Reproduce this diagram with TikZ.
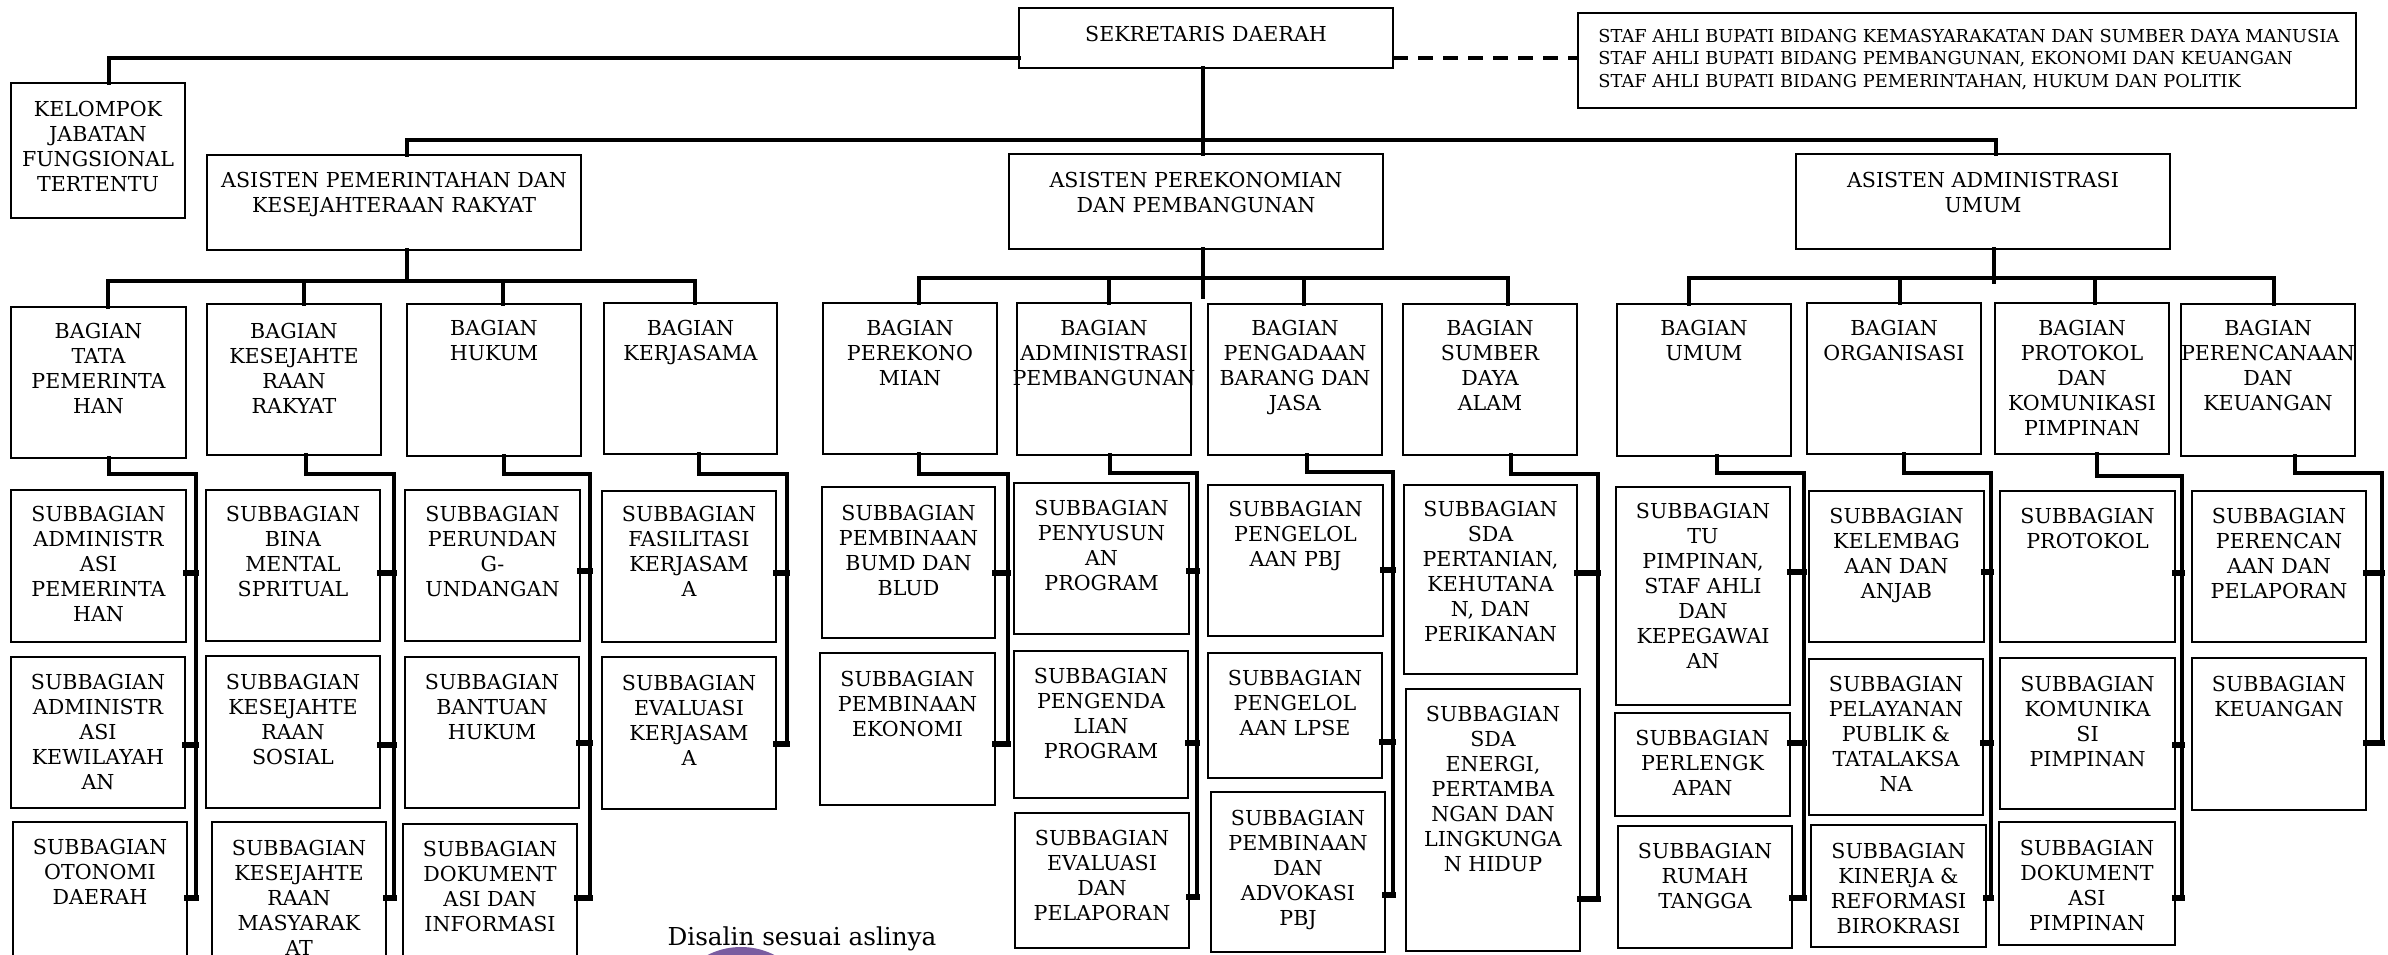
\documentclass[tikz,border=0pt]{standalone}
\usepackage{fontspec}
\setmainfont{DejaVu Serif}
\usetikzlibrary{fit,calc}
\tikzset{
  box/.style={draw, line width=1.2pt, inner sep=0pt, outer sep=0pt, rectangle},
  txt/.style={align=center, inner sep=0pt, anchor=north, font=\fontsize{10.3pt}{12.5pt}\selectfont},
  conn/.style={line width=2.1pt, line cap=rect, line join=miter},
  stubline/.style={line width=2.6pt, line cap=rect},
}
% name, x1, y1, x2, y2, first-line centre y, text
\newcommand\obox[7]{%
  \node[box, fit={(#2,#3)(#4,#5)}] (#1) {};
  \path (#1.north) ++(0,{#6-#3-7.5}) node[txt] (#1t) {#7};}
% sub box stub: sub name, y, group name
\newcommand\stub[3]{%
  \coordinate (#1c) at (0,#2);
  \draw[stubline] (#1.east |- #1c) -- (#3s |- #1c);}
% group: bag name, vertical x, elbow y, spine x, last sub name
\newcommand\grp[5]{%
  \coordinate (#1v) at (#2,#3);
  \coordinate (#1s) at (#4,#3);
  \draw[conn] (#1.south -| #1v) -- (#1v) -- (#1s) -- (#1s |- #5c);}
% drop from a bus: bag name, x, bus y
\newcommand\drop[3]{%
  \coordinate (d#1) at (#2,#3);
  \draw[conn] (d#1) -- (#1.north -| d#1);}
\begin{document}
\begin{tikzpicture}[x=0.5pt,y=-0.5pt]
\path[use as bounding box] (0,0) rectangle (2388,954);
\fill[white] (0,0) rectangle (2388,954);
\begin{scope}
\clip (0,0) rectangle (2388,954);

% ---------- top level ----------
\obox{sekda}{1019}{8}{1393}{68}{33}{SEKRETARIS DAERAH}
\node[box, fit={(1578,13)(2356,108)}] (staf) {};
\path (staf.north west) ++(20,15.5) node[anchor=north west, inner sep=0pt, align=left,
  font=\fontsize{8.9pt}{11.25pt}\selectfont] (staft)
  {STAF AHLI BUPATI BIDANG KEMASYARAKATAN DAN SUMBER DAYA MANUSIA\\
   STAF AHLI BUPATI BIDANG PEMBANGUNAN, EKONOMI DAN KEUANGAN\\
   STAF AHLI BUPATI BIDANG PEMERINTAHAN, HUKUM DAN POLITIK};
\obox{klp}{11}{83}{185}{218}{108}{KELOMPOK\\JABATAN\\FUNGSIONAL\\TERTENTU}

\obox{a1}{207}{155}{581}{250}{179}{ASISTEN PEMERINTAHAN DAN\\KESEJAHTERAAN RAKYAT}
\obox{a2}{1009}{154}{1383}{249}{179}{ASISTEN PEREKONOMIAN\\DAN PEMBANGUNAN}
\obox{a3}{1796}{154}{2170}{249}{179}{ASISTEN ADMINISTRASI\\UMUM}

\coordinate (kj1) at (109,58);
\draw[conn] (sekda.west |- kj1) -- (kj1) -- (klp.north -| kj1);
\draw[conn, dash pattern=on 7.5pt off 5pt, line cap=butt] (sekda.east |- kj1) -- (staf.west |- kj1);
\coordinate (sv) at (1203,0);
\draw[conn] (sekda.south -| sv) -- (a2.north -| sv);
\coordinate (mL) at (407,140);
\coordinate (mR) at (1996,140);
\draw[conn] (a1.north -| mL) -- (mL) -- (mR) -- (a3.north -| mR);

% ---------- bagian ----------
\obox{tp}{11}{307}{186}{458}{330}{BAGIAN\\TATA\\PEMERINTA\\HAN}
\obox{ks}{207}{304}{381}{455}{330}{BAGIAN\\KESEJAHTE\\RAAN\\RAKYAT}
\obox{hk}{407}{304}{581}{456}{327}{BAGIAN\\HUKUM}
\obox{kj}{604}{303}{777}{454}{327}{BAGIAN\\KERJASAMA}
\obox{pk}{823}{303}{997}{454}{327}{BAGIAN\\PEREKONO\\MIAN}
\obox{ap}{1017}{303}{1191}{455}{327}{BAGIAN\\ADMINISTRASI\\PEMBANGUNAN}
\obox{pg}{1208}{304}{1382}{455}{327}{BAGIAN\\PENGADAAN\\BARANG DAN\\JASA}
\obox{sd}{1403}{304}{1577}{455}{327}{BAGIAN\\SUMBER\\DAYA\\ALAM}
\obox{um}{1617}{304}{1791}{456}{327}{BAGIAN\\UMUM}
\obox{og}{1807}{303}{1981}{454}{327}{BAGIAN\\ORGANISASI}
\obox{pt}{1995}{303}{2169}{454}{327}{BAGIAN\\PROTOKOL\\DAN\\KOMUNIKASI\\PIMPINAN}
\obox{pr}{2181}{304}{2355}{456}{327}{BAGIAN\\PERENCANAAN\\DAN\\KEUANGAN}

% buses from asisten
\coordinate (b1) at (407,281);
\coordinate (b1L) at (108,281);
\coordinate (b1R) at (695,281);
\draw[conn] (a1.south -| b1) -- (b1);
\draw[conn] (tp.north -| b1L) -- (b1L) -- (b1R) -- (kj.north -| b1R);
\drop{ks}{304}{281}
\drop{hk}{503}{281}

\coordinate (b2) at (1203,297);
\coordinate (b2L) at (919,278);
\coordinate (b2R) at (1508,278);
\draw[conn] (a2.south -| b2) -- (b2);
\draw[conn] (pk.north -| b2L) -- (b2L) -- (b2R) -- (sd.north -| b2R);
\drop{ap}{1109}{278}
\drop{pg}{1304}{278}

\coordinate (b3) at (1994,282);
\coordinate (b3L) at (1689,278);
\coordinate (b3R) at (2274,278);
\draw[conn] (a3.south -| b3) -- (b3);
\draw[conn] (um.north -| b3L) -- (b3L) -- (b3R) -- (pr.north -| b3R);
\drop{og}{1900}{278}
\drop{pt}{2095}{278}

% ---------- subbagian ----------
\obox{s11}{11}{490}{186}{642}{513}{SUBBAGIAN\\ADMINISTR\\ASI\\PEMERINTA\\HAN}
\obox{s12}{11}{657}{185}{808}{681}{SUBBAGIAN\\ADMINISTR\\ASI\\KEWILAYAH\\AN}
\obox{s13}{13}{822}{187}{990}{846}{SUBBAGIAN\\OTONOMI\\DAERAH}
\obox{s21}{206}{490}{380}{641}{513}{SUBBAGIAN\\BINA\\MENTAL\\SPRITUAL}
\obox{s22}{206}{656}{380}{808}{681}{SUBBAGIAN\\KESEJAHTE\\RAAN\\SOSIAL}
\obox{s23}{212}{822}{386}{990}{847}{SUBBAGIAN\\KESEJAHTE\\RAAN\\MASYARAK\\AT}
\obox{s31}{405}{490}{580}{641}{513}{SUBBAGIAN\\PERUNDAN\\G-\\UNDANGAN}
\obox{s32}{405}{657}{579}{808}{681}{SUBBAGIAN\\BANTUAN\\HUKUM}
\obox{s33}{403}{824}{577}{990}{848}{SUBBAGIAN\\DOKUMENT\\ASI DAN\\INFORMASI}
\obox{s41}{602}{491}{776}{642}{513}{SUBBAGIAN\\FASILITASI\\KERJASAM\\A}
\obox{s42}{602}{657}{776}{809}{682}{SUBBAGIAN\\EVALUASI\\KERJASAM\\A}
\obox{s51}{822}{487}{995}{638}{512}{SUBBAGIAN\\PEMBINAAN\\BUMD DAN\\BLUD}
\obox{s52}{820}{653}{995}{805}{678}{SUBBAGIAN\\PEMBINAAN\\EKONOMI}
\obox{s61}{1014}{483}{1189}{634}{507}{SUBBAGIAN\\PENYUSUN\\AN\\PROGRAM}
\obox{s62}{1014}{651}{1188}{798}{675}{SUBBAGIAN\\PENGENDA\\LIAN\\PROGRAM}
\obox{s63}{1015}{813}{1189}{948}{837}{SUBBAGIAN\\EVALUASI\\DAN\\PELAPORAN}
\obox{s71}{1208}{485}{1383}{636}{508}{SUBBAGIAN\\PENGELOL\\AAN PBJ}
\obox{s72}{1208}{653}{1382}{778}{677}{SUBBAGIAN\\PENGELOL\\AAN LPSE}
\obox{s73}{1211}{792}{1385}{952}{817}{SUBBAGIAN\\PEMBINAAN\\DAN\\ADVOKASI\\PBJ}
\obox{s81}{1404}{485}{1577}{674}{508}{SUBBAGIAN\\SDA\\PERTANIAN,\\KEHUTANA\\N, DAN\\PERIKANAN}
\obox{s82}{1406}{689}{1580}{951}{713}{SUBBAGIAN\\SDA\\ENERGI,\\PERTAMBA\\NGAN DAN\\LINGKUNGA\\N HIDUP}
\obox{s91}{1616}{487}{1790}{705}{510}{SUBBAGIAN\\TU\\PIMPINAN,\\STAF AHLI\\DAN\\KEPEGAWAI\\AN}
\obox{s92}{1615}{713}{1790}{816}{737}{SUBBAGIAN\\PERLENGK\\APAN}
\obox{s93}{1618}{826}{1792}{948}{850}{SUBBAGIAN\\RUMAH\\TANGGA}
\obox{sa1}{1809}{491}{1984}{642}{515}{SUBBAGIAN\\KELEMBAG\\AAN DAN\\ANJAB}
\obox{sa2}{1809}{659}{1983}{815}{683}{SUBBAGIAN\\PELAYANAN\\PUBLIK \&\\TATALAKSA\\NA}
\obox{sa3}{1811}{825}{1986}{947}{850}{SUBBAGIAN\\KINERJA \&\\REFORMASI\\BIROKRASI}
\obox{sb1}{2000}{491}{2175}{642}{515}{SUBBAGIAN\\PROTOKOL}
\obox{sb2}{2000}{658}{2175}{809}{683}{SUBBAGIAN\\KOMUNIKA\\SI\\PIMPINAN}
\obox{sb3}{1999}{822}{2175}{945}{847}{SUBBAGIAN\\DOKUMENT\\ASI\\PIMPINAN}
\obox{sc1}{2192}{491}{2366}{642}{515}{SUBBAGIAN\\PERENCAN\\AAN DAN\\PELAPORAN}
\obox{sc2}{2192}{658}{2366}{810}{683}{SUBBAGIAN\\KEUANGAN}

% ---------- groups: spines ----------
\coordinate (s13c) at (0,898);
\coordinate (s23c) at (0,898);
\coordinate (s33c) at (0,898);
\coordinate (s42c) at (0,744);
\coordinate (s52c) at (0,744);
\coordinate (s63c) at (0,897);
\coordinate (s73c) at (0,895);
\coordinate (s82c) at (0,899);
\coordinate (s93c) at (0,898);
\coordinate (sa3c) at (0,898);
\coordinate (sb3c) at (0,898);
\coordinate (sc2c) at (0,743);
\grp{tp}{109}{474}{196}{s13}
\grp{ks}{306}{474}{394}{s23}
\grp{hk}{504}{474}{590}{s33}
\grp{kj}{699}{474}{787}{s42}
\grp{pk}{919}{474}{1008}{s52}
\grp{ap}{1110}{473}{1197}{s63}
\grp{pg}{1307}{472}{1393}{s73}
\grp{sd}{1511}{474}{1598}{s82}
\grp{um}{1717}{473}{1804}{s93}
\grp{og}{1904}{473}{1991}{sa3}
\grp{pt}{2097}{476}{2182}{sb3}
\grp{pr}{2295}{473}{2382}{sc2}

% ---------- stubs ----------
\stub{s11}{573}{tp} \stub{s12}{745}{tp} \stub{s13}{898}{tp}
\stub{s21}{573}{ks} \stub{s22}{745}{ks} \stub{s23}{898}{ks}
\stub{s31}{571}{hk} \stub{s32}{743}{hk} \stub{s33}{898}{hk}
\stub{s41}{573}{kj} \stub{s42}{744}{kj}
\stub{s51}{573}{pk} \stub{s52}{744}{pk}
\stub{s61}{571}{ap} \stub{s62}{743}{ap} \stub{s63}{897}{ap}
\stub{s71}{570}{pg} \stub{s72}{742}{pg} \stub{s73}{895}{pg}
\stub{s81}{573}{sd} \stub{s82}{899}{sd}
\stub{s91}{572}{um} \stub{s92}{743}{um} \stub{s93}{898}{um}
\stub{sa1}{572}{og} \stub{sa2}{743}{og} \stub{sa3}{898}{og}
\stub{sb1}{573}{pt} \stub{sb2}{745}{pt} \stub{sb3}{898}{pt}
\stub{sc1}{573}{pr} \stub{sc2}{743}{pr}

% ---------- note and stamp ----------
\node[anchor=base, inner sep=0pt, font=\fontsize{12.35pt}{14pt}\selectfont] (note) at (802,945) {Disalin sesuai aslinya};
\fill[fill={rgb,255:red,122;green,92;blue,160}] (741,1021) circle[radius=74];
\end{scope}
\end{tikzpicture}
\end{document}
